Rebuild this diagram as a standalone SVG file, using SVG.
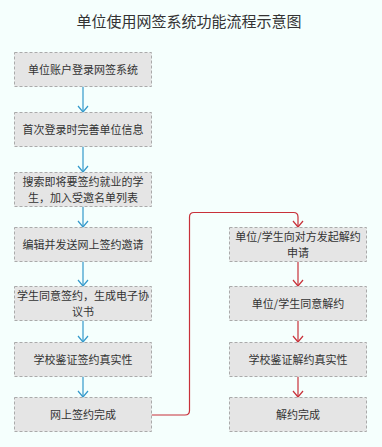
<svg xmlns="http://www.w3.org/2000/svg" width="382" height="447" viewBox="0 0 382 447">
<style>
.bg{fill:#f5fffd}
.box{fill:#e5e5e5;stroke:#aaaaaa;stroke-width:1;stroke-dasharray:3 2}
text{font-family:"Noto Sans CJK SC","Noto Sans",sans-serif;fill:#333;text-anchor:middle}
.t{font-size:11px}
.title{font-size:15px}
.blue{stroke:#3399cc;stroke-width:1.2;fill:none}
.red{stroke:#c8313a;stroke-width:1.2;fill:none}
</style>
<defs>
<marker id="ab" viewBox="0 0 12 12" refX="6" refY="11" markerWidth="12" markerHeight="12" markerUnits="userSpaceOnUse" orient="0">
<path d="M1 5 L6 11 L11 5" fill="none" stroke="#3399cc" stroke-width="1.2"/>
</marker>
<marker id="ar" viewBox="0 0 12 12" refX="6" refY="11" markerWidth="12" markerHeight="12" markerUnits="userSpaceOnUse" orient="0">
<path d="M1 5 L6 11 L11 5" fill="none" stroke="#c8313a" stroke-width="1.2"/>
</marker>
</defs>
<rect class="bg" x="0" y="0" width="382" height="447"/>
<text class="title" x="189" y="27">单位使用网签系统功能流程示意图</text>
<g id="connectors">
<line class="blue" x1="83" y1="86.5" x2="83" y2="112" marker-end="url(#ab)"/>
<line class="blue" x1="83" y1="146.5" x2="83" y2="172" marker-end="url(#ab)"/>
<line class="blue" x1="83" y1="206.5" x2="83" y2="227" marker-end="url(#ab)"/>
<line class="blue" x1="83" y1="261.5" x2="83" y2="286" marker-end="url(#ab)"/>
<line class="blue" x1="83" y1="320.5" x2="83" y2="342" marker-end="url(#ab)"/>
<line class="blue" x1="83" y1="376.5" x2="83" y2="397" marker-end="url(#ab)"/>
<path class="red" d="M151.5 415 H185 Q189.5 415 189.5 410.5 V217 Q189.5 212.5 194 212.5 H293.5 Q298 212.5 298 217 V227" marker-end="url(#ar)"/>
<line class="red" x1="298" y1="261.5" x2="298" y2="286" marker-end="url(#ar)"/>
<line class="red" x1="298" y1="320.5" x2="298" y2="342" marker-end="url(#ar)"/>
<line class="red" x1="298" y1="376.5" x2="298" y2="397" marker-end="url(#ar)"/>
</g>
<g id="n1"><rect class="box" x="14.5" y="52.5" width="137" height="34"/><text class="t" x="83" y="73.5">单位账户登录网签系统</text></g>
<g id="n2"><rect class="box" x="14.5" y="112.5" width="137" height="34"/><text class="t" x="83" y="133.5">首次登录时完善单位信息</text></g>
<g id="n3"><rect class="box" x="14.5" y="172.5" width="137" height="34"/><text class="t" x="83" y="186">搜索即将要签约就业的学</text><text class="t" x="83" y="202">生，加入受邀名单列表</text></g>
<g id="n4"><rect class="box" x="14.5" y="227.5" width="137" height="34"/><text class="t" x="83" y="248.5">编辑并发送网上签约邀请</text></g>
<g id="n5"><rect class="box" x="14.5" y="286.5" width="137" height="34"/><text class="t" x="83" y="300">学生同意签约，生成电子协</text><text class="t" x="83" y="316">议书</text></g>
<g id="n6"><rect class="box" x="14.5" y="342.5" width="137" height="34"/><text class="t" x="83" y="363.5">学校鉴证签约真实性</text></g>
<g id="n7"><rect class="box" x="14.5" y="397.5" width="137" height="34"/><text class="t" x="83" y="418.5">网上签约完成</text></g>
<g id="r1"><rect class="box" x="229.5" y="227.5" width="137" height="34"/><text class="t" x="298" y="241">单位/学生向对方发起解约</text><text class="t" x="298" y="257">申请</text></g>
<g id="r2"><rect class="box" x="229.5" y="286.5" width="137" height="34"/><text class="t" x="298" y="307.5">单位/学生同意解约</text></g>
<g id="r3"><rect class="box" x="229.5" y="342.5" width="137" height="34"/><text class="t" x="298" y="363.5">学校鉴证解约真实性</text></g>
<g id="r4"><rect class="box" x="229.5" y="397.5" width="137" height="34"/><text class="t" x="298" y="418.5">解约完成</text></g>
</svg>
